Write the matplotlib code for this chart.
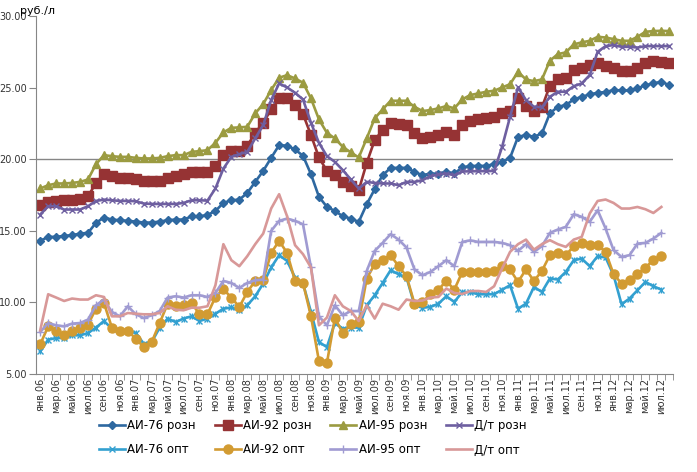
import matplotlib
matplotlib.use("Agg")
import matplotlib.pyplot as plt
import numpy as np

months = ["янв", "фев", "мар", "апр", "май", "июн", "июл", "авг", "сен", "окт", "ноя", "дек"]
cats = ["%s.%02d" % (months[k % 12], 6 + k // 12) for k in range(80)]

ai76_r = [14.29, 14.57, 14.57, 14.64, 14.69, 14.80, 14.85, 15.55, 15.92, 15.78,
          15.73, 15.69, 15.64, 15.57, 15.57, 15.64, 15.73, 15.78, 15.78, 16.00,
          16.00, 16.10, 16.38, 16.94, 17.13, 17.17, 17.64, 18.41, 19.18, 20.09,
          20.98, 20.94, 20.68, 20.23, 18.95, 17.37, 16.67, 16.38, 16.01, 15.85,
          15.62, 16.85, 17.90, 18.88, 19.39, 19.39, 19.39, 19.11, 18.88, 18.99,
          18.99, 19.11, 19.00, 19.42, 19.52, 19.53, 19.53, 19.65, 19.81, 20.09,
          21.56, 21.68, 21.56, 21.80, 23.20, 23.66, 23.78, 24.17, 24.36, 24.52,
          24.64, 24.69, 24.83, 24.80, 24.80, 24.94, 25.17, 25.29, 25.41, 25.17]
ai92_r = [16.78, 17.01, 17.08, 17.13, 17.17, 17.25, 17.40, 18.34, 18.95, 18.83,
          18.69, 18.69, 18.60, 18.46, 18.46, 18.46, 18.69, 18.81, 18.93, 19.11,
          19.11, 19.11, 19.53, 20.28, 20.58, 20.60, 20.93, 21.84, 22.54, 23.48,
          24.29, 24.29, 23.78, 23.15, 21.68, 20.12, 19.18, 18.88, 18.41, 18.13,
          17.83, 19.74, 21.33, 22.03, 22.54, 22.45, 22.38, 21.84, 21.45, 21.52,
          21.68, 21.91, 21.68, 22.38, 22.70, 22.78, 22.89, 22.96, 23.24, 23.38,
          24.24, 23.71, 23.36, 23.62, 25.13, 25.57, 25.64, 26.22, 26.38, 26.57,
          26.69, 26.52, 26.34, 26.17, 26.17, 26.38, 26.73, 26.85, 26.76, 26.73]
ai95_r = [17.95, 18.18, 18.30, 18.30, 18.34, 18.41, 18.58, 19.65, 20.28, 20.21,
          20.16, 20.16, 20.09, 20.05, 20.05, 20.09, 20.21, 20.28, 20.28, 20.51,
          20.56, 20.63, 21.14, 21.87, 22.19, 22.22, 22.26, 23.20, 23.85, 24.83,
          25.69, 25.87, 25.64, 25.34, 24.24, 22.78, 21.84, 21.45, 20.86, 20.47,
          20.12, 21.45, 22.85, 23.48, 24.08, 24.08, 24.08, 23.66, 23.36, 23.43,
          23.55, 23.71, 23.55, 24.18, 24.48, 24.59, 24.71, 24.78, 25.01, 25.24,
          26.10, 25.57, 25.45, 25.57, 26.88, 27.34, 27.46, 28.02, 28.16, 28.27,
          28.55, 28.50, 28.39, 28.27, 28.27, 28.55, 28.90, 28.95, 28.97, 28.95]
dt_r = [16.13, 16.71, 16.71, 16.48, 16.48, 16.48, 16.71, 17.08, 17.17, 17.13,
        17.08, 17.08, 17.06, 16.90, 16.87, 16.87, 16.87, 16.87, 16.94, 17.13,
        17.13, 17.10, 17.95, 19.34, 20.16, 20.35, 20.51, 21.45, 22.38, 24.13,
        25.29, 25.01, 24.64, 24.17, 22.54, 21.14, 20.21, 19.81, 19.23, 18.58,
        17.95, 18.41, 18.34, 18.30, 18.30, 18.18, 18.41, 18.41, 18.53, 18.81,
        18.93, 18.99, 18.88, 19.14, 19.15, 19.16, 19.16, 19.18, 20.86, 22.96,
        25.01, 24.13, 23.66, 23.62, 24.36, 24.71, 24.71, 25.10, 25.29, 25.87,
        27.50, 27.90, 27.97, 27.85, 27.85, 27.80, 27.90, 27.90, 27.90, 27.90]
ai76_o = [6.57, 7.39, 7.50, 7.50, 7.69, 7.69, 7.85, 8.23, 8.69, 8.16,
          7.99, 7.99, 7.85, 7.11, 7.22, 8.23, 8.86, 8.62, 8.86, 9.02,
          8.69, 8.86, 9.20, 9.55, 9.64, 9.44, 9.79, 10.42, 11.31, 12.43,
          13.29, 12.89, 11.73, 11.31, 9.32, 7.22, 6.87, 8.55, 8.16, 8.23,
          8.23, 9.79, 10.49, 11.35, 12.24, 11.96, 11.73, 9.79, 9.62, 9.67,
          9.90, 10.42, 10.02, 10.72, 10.70, 10.56, 10.56, 10.56, 10.88, 11.19,
          9.55, 9.90, 11.07, 10.72, 11.66, 11.59, 12.12, 12.94, 13.05, 12.52,
          13.22, 13.13, 11.89, 9.86, 10.26, 10.84, 11.42, 11.12, 10.88, np.nan]
ai92_o = [7.06, 8.32, 7.99, 7.74, 7.99, 8.23, 8.44, 9.55, 9.95, 8.23,
          8.00, 8.00, 7.46, 6.87, 7.22, 8.55, 9.90, 9.72, 9.79, 9.95,
          9.16, 9.16, 10.37, 10.91, 10.33, 9.67, 10.72, 11.49, 11.54, 13.45,
          14.29, 13.45, 11.49, 11.35, 9.02, 5.90, 5.76, 8.90, 7.85, 8.46,
          8.62, 11.66, 12.66, 12.98, 13.29, 12.52, 11.82, 9.90, 10.02, 10.56,
          10.88, 11.49, 10.88, 12.12, 12.12, 12.12, 12.12, 12.19, 12.52, 12.29,
          11.42, 12.29, 11.49, 12.19, 13.29, 13.45, 13.29, 13.92, 14.15, 14.03,
          13.99, 13.52, 11.96, 11.31, 11.54, 11.96, 12.40, 12.98, 13.22, np.nan]
ai95_o = [7.92, 8.55, 8.39, 8.32, 8.51, 8.55, 8.79, 9.79, 10.19, 9.32,
          9.02, 9.72, 9.16, 8.90, 9.09, 9.39, 10.33, 10.42, 10.33, 10.49,
          10.49, 10.37, 10.65, 11.49, 11.35, 11.00, 11.35, 11.54, 11.59, 14.99,
          15.69, 15.85, 15.69, 15.45, 12.43, 9.02, 8.39, 9.79, 9.09, 9.39,
          9.39, 12.19, 13.59, 14.15, 14.76, 14.38, 13.82, 12.29, 11.89, 12.12,
          12.52, 12.94, 12.52, 14.22, 14.32, 14.22, 14.22, 14.22, 14.15, 13.99,
          13.59, 14.06, 13.52, 13.92, 14.85, 15.08, 15.27, 16.15, 15.97, 15.62,
          16.43, 15.15, 13.64, 13.17, 13.29, 14.10, 14.15, 14.45, 14.85, np.nan]
dt_o = [8.04, 10.56, 10.33, 10.09, 10.26, 10.19, 10.19, 10.49, 10.37, 9.02,
        9.02, 9.25, 9.20, 9.16, 9.16, 9.25, 9.72, 9.48, 9.44, 9.62,
        9.62, 9.72, 11.19, 14.06, 12.94, 12.52, 13.22, 14.06, 14.80, 16.55,
        17.55, 16.01, 13.99, 13.36, 12.43, 8.39, 8.93, 10.49, 9.72, 9.39,
        8.69, 9.79, 8.86, 9.90, 9.72, 9.48, 10.19, 10.09, 10.12, 10.33,
        10.37, 10.96, 10.65, 10.58, 10.78, 10.79, 10.72, 11.12, 12.36, 13.52,
        14.06, 14.38, 13.68, 14.06, 14.34, 14.06, 13.87, 14.38, 14.57, 16.20,
        17.08, 17.18, 16.94, 16.55, 16.55, 16.66, 16.50, 16.24, 16.66, np.nan]

series = [
    ("АИ-76 розн", ai76_r, "#2E68A0", "D", 4.5),
    ("АИ-92 розн", ai92_r, "#963334", "s", 6.5),
    ("АИ-95 розн", ai95_r, "#9B9B41", "^", 6),
    ("Д/т розн", dt_r, "#6E5FA0", "x", 4.5),
    ("АИ-76 опт", ai76_o, "#33A0D0", "x", 5),
    ("АИ-92 опт", ai92_o, "#D29B32", "o", 6.5),
    ("АИ-95 опт", ai95_o, "#A09BD2", "+", 6),
    ("Д/т опт", dt_o, "#D89898", "", 0),
]

x = np.arange(len(cats))
fig = plt.figure(figsize=(6.97, 4.72), dpi=100)
ax = fig.add_axes([0.052, 0.208, 0.914, 0.758])

handles = []
for name, vals, col, mk, ms in series:
    h, = ax.plot(x, vals, color=col, lw=1.9, marker=mk if mk else None,
                 ms=ms, mew=1.0, label=name)
    handles.append(h)
    if name == "АИ-76 опт":
        ax.plot(x, vals, color=col, lw=0, marker="|", ms=5, mew=1.0)

ax.axhline(20, color="#868686", lw=1, zorder=0)

ax.set_xlim(-0.5, len(cats) - 0.5)
ax.set_ylim(5, 30)
ax.set_yticks(np.arange(5, 31, 5))
ax.set_yticklabels(["%.2f" % v for v in np.arange(5, 31, 5)], fontsize=7, color="#333333")
ax.set_xticks(x[::2])
ax.set_xticklabels(cats[::2], rotation=90, fontsize=7, color="#333333")
ax.set_xticks(x + 0.5, minor=True)
ax.tick_params(axis="x", which="major", length=0, pad=3)
ax.tick_params(axis="x", which="minor", length=4, color="#868686")
ax.tick_params(axis="y", length=5, color="#868686", pad=2)
for s in ["top", "right"]:
    ax.spines[s].set_visible(False)
for s in ["left", "bottom"]:
    ax.spines[s].set_color("#868686")

fig.text(0.028, 0.977, "руб./л", fontsize=8, va="center", ha="left")

# legend filled row by row
order = [0, 4, 1, 5, 2, 6, 3, 7]
ax.legend([handles[k] for k in order], [series[k][0] for k in order],
          loc="upper left", bbox_to_anchor=(0.142, 0.113), bbox_transform=fig.transFigure,
          ncol=4, frameon=False, fontsize=8.5, handlelength=2.2, handletextpad=0.2,
          columnspacing=1.6, labelspacing=1.0, borderaxespad=0, borderpad=0)

plt.savefig("out.png", dpi=100)
